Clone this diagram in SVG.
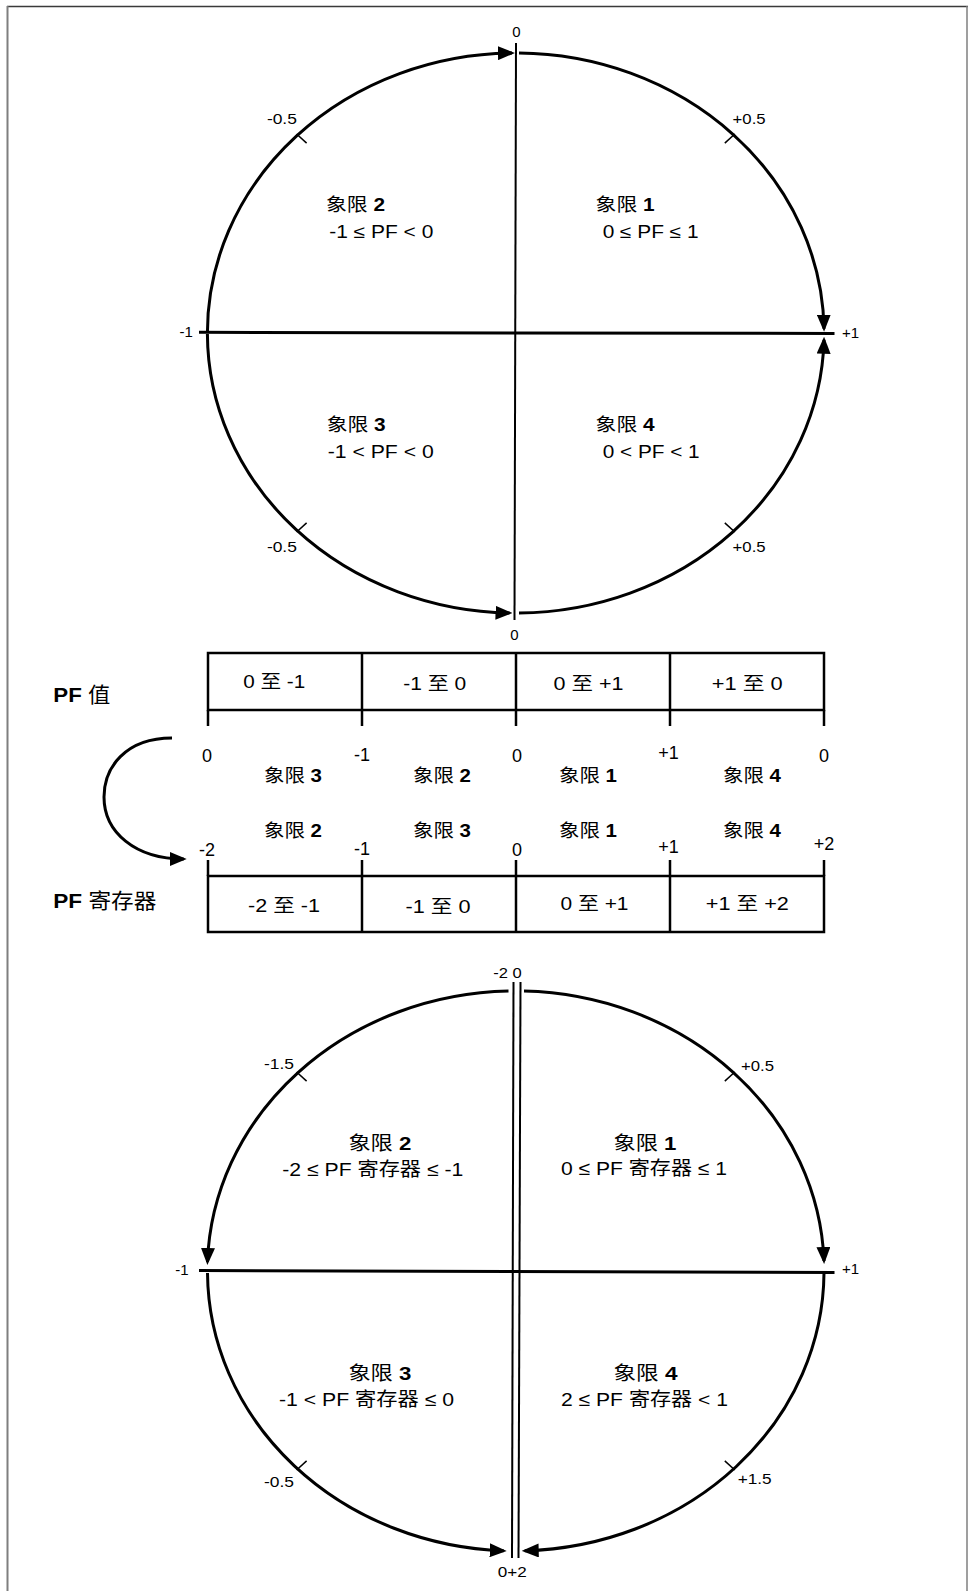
<svg xmlns="http://www.w3.org/2000/svg" width="968" height="1591" viewBox="0 0 968 1591">
<style>
text{font-family:"Liberation Sans","Noto Sans CJK SC",sans-serif;fill:#000}
.s{font-size:15px}
.q{font-size:18px}
.r{font-size:19px}
.h{font-size:21px}
.b{font-weight:bold}
.m{text-anchor:middle}
.e{text-anchor:end}
.arc{fill:none;stroke:#000;stroke-width:3}
.ln{fill:none;stroke:#000;stroke-width:2}
.hl{fill:none;stroke:#000;stroke-width:3}
.tk{fill:none;stroke:#000;stroke-width:1.5}
.tb{fill:none;stroke:#000;stroke-width:2.5}
</style>
<defs>
<marker id="arr" markerUnits="userSpaceOnUse" viewBox="0 0 17 14" markerWidth="17" markerHeight="14" refX="14" refY="7" orient="auto">
<path d="M0,0 L17,7 L0,14 z" fill="#000"/>
</marker>
</defs>

<g id="frame">
<line x1="7" y1="6.5" x2="968" y2="6.5" stroke="#3a3a3a" stroke-width="1.5"/>
<line x1="7.5" y1="6" x2="7.5" y2="1591" stroke="#7f7f7f" stroke-width="2"/>
<line x1="967" y1="6" x2="967" y2="1591" stroke="#7f7f7f" stroke-width="1.5"/>
</g>

<g id="connectors">
<path class="arc" d="M207.4,333 A308.3,280 0 0 1 512,53" marker-end="url(#arr)"/>
<path class="arc" d="M519,53 A308.3,280 0 0 1 824,328.7" marker-end="url(#arr)"/>
<path class="arc" d="M519,613 A308.3,280 0 0 0 824,339.7" marker-end="url(#arr)"/>
<path class="arc" d="M207.4,334 A308.3,280 0 0 0 509.5,613" marker-end="url(#arr)"/>
<line class="ln" x1="516" y1="43" x2="514.5" y2="620"/>
<line class="hl" x1="199" y1="332.3" x2="834.5" y2="333.5"/>
<line class="tk" x1="296.6" y1="134" x2="306.6" y2="143.1"/>
<line class="tk" x1="734.8" y1="134" x2="724.8" y2="143.1"/>
<line class="tk" x1="296.6" y1="532" x2="306.6" y2="522.9"/>
<line class="tk" x1="734.8" y1="532" x2="724.8" y2="522.9"/>
<path class="arc" d="M172,738 C125,738 104,768 104,797 C104,832 135,859 183.7,859" marker-end="url(#arr)"/>
<path class="arc" d="M508.5,991 A308.3,280 0 0 0 207.5,1262" marker-end="url(#arr)"/>
<path class="arc" d="M524,991 A308.3,280 0 0 1 824,1261" marker-end="url(#arr)"/>
<path class="arc" d="M207.5,1273 A308.3,280 0 0 0 503.7,1550.8" marker-end="url(#arr)"/>
<path class="arc" d="M824,1273 A308.3,280 0 0 1 524.7,1550.8" marker-end="url(#arr)"/>
<line class="ln" x1="513.5" y1="982" x2="512" y2="1558"/>
<line class="ln" x1="520.5" y1="982" x2="518.5" y2="1558"/>
<line class="hl" x1="199" y1="1270.5" x2="834.5" y2="1272.5"/>
<line class="tk" x1="296.6" y1="1072" x2="306.6" y2="1081.1"/>
<line class="tk" x1="734.8" y1="1072" x2="724.8" y2="1081.1"/>
<line class="tk" x1="296.6" y1="1470" x2="306.6" y2="1460.9"/>
<line class="tk" x1="734.8" y1="1470" x2="724.8" y2="1460.9"/>
</g>

<g id="top-circle-labels">
<text class="s m" x="516.5" y="37">0</text>
<text class="s" x="266.9" y="124" textLength="30" lengthAdjust="spacingAndGlyphs">-0.5</text>
<text class="s" x="732.6" y="124" textLength="33" lengthAdjust="spacingAndGlyphs">+0.5</text>
<text class="s e" x="192.8" y="337">-1</text>
<text class="s" x="842" y="338">+1</text>
<text class="s" x="266.9" y="552" textLength="30" lengthAdjust="spacingAndGlyphs">-0.5</text>
<text class="s" x="732.6" y="552" textLength="33" lengthAdjust="spacingAndGlyphs">+0.5</text>
<text class="s m" x="514.5" y="640">0</text>
</g>
<g id="top-q2">
<text class="q" x="326" y="211" textLength="59" lengthAdjust="spacingAndGlyphs">象限 <tspan class="b">2</tspan></text>
<text class="q" x="329.3" y="238" textLength="104" lengthAdjust="spacingAndGlyphs">-1 ≤ PF &lt; 0</text>
</g>
<g id="top-q1">
<text class="q" x="595.6" y="211" textLength="59" lengthAdjust="spacingAndGlyphs">象限 <tspan class="b">1</tspan></text>
<text class="q" x="602.7" y="238" textLength="96" lengthAdjust="spacingAndGlyphs">0 ≤ PF ≤ 1</text>
</g>
<g id="top-q3">
<text class="q" x="326.7" y="431" textLength="59" lengthAdjust="spacingAndGlyphs">象限 <tspan class="b">3</tspan></text>
<text class="q" x="327.7" y="458" textLength="106" lengthAdjust="spacingAndGlyphs">-1 &lt; PF &lt; 0</text>
</g>
<g id="top-q4">
<text class="q" x="595.6" y="431" textLength="59" lengthAdjust="spacingAndGlyphs">象限 <tspan class="b">4</tspan></text>
<text class="q" x="602.7" y="458" textLength="97" lengthAdjust="spacingAndGlyphs">0 &lt; PF &lt; 1</text>
</g>

<g id="pf-value-table">
<text class="h" x="53.3" y="702" textLength="57" lengthAdjust="spacingAndGlyphs"><tspan class="b">PF</tspan> 值</text>
<rect class="tb" x="208" y="653" width="616" height="57"/>
<line class="tb" x1="362" y1="653" x2="362" y2="726"/>
<line class="tb" x1="516" y1="653" x2="516" y2="726"/>
<line class="tb" x1="670" y1="653" x2="670" y2="726"/>
<line class="tb" x1="208" y1="710" x2="208" y2="726"/>
<line class="tb" x1="824" y1="710" x2="824" y2="726"/>
<text class="q m" x="274.2" y="688" textLength="62" lengthAdjust="spacingAndGlyphs">0 至 -1</text>
<text class="q m" x="434.7" y="689.5" textLength="63" lengthAdjust="spacingAndGlyphs">-1 至 0</text>
<text class="q m" x="588.6" y="690" textLength="70" lengthAdjust="spacingAndGlyphs">0 至 +1</text>
<text class="q m" x="747.2" y="690" textLength="71" lengthAdjust="spacingAndGlyphs">+1 至 0</text>
</g>

<g id="mapping-labels">
<text class="q m" x="207" y="762">0</text>
<text class="q m" x="362" y="761">-1</text>
<text class="q m" x="517" y="762">0</text>
<text class="q m" x="668.5" y="759">+1</text>
<text class="q m" x="824" y="762">0</text>
<text class="q m" x="293" y="782" textLength="58" lengthAdjust="spacingAndGlyphs">象限 <tspan class="b">3</tspan></text>
<text class="q m" x="442" y="782" textLength="58" lengthAdjust="spacingAndGlyphs">象限 <tspan class="b">2</tspan></text>
<text class="q m" x="588" y="782" textLength="58" lengthAdjust="spacingAndGlyphs">象限 <tspan class="b">1</tspan></text>
<text class="q m" x="752" y="782" textLength="58" lengthAdjust="spacingAndGlyphs">象限 <tspan class="b">4</tspan></text>
<text class="q m" x="293" y="837" textLength="58" lengthAdjust="spacingAndGlyphs">象限 <tspan class="b">2</tspan></text>
<text class="q m" x="442" y="837" textLength="58" lengthAdjust="spacingAndGlyphs">象限 <tspan class="b">3</tspan></text>
<text class="q m" x="588" y="837" textLength="58" lengthAdjust="spacingAndGlyphs">象限 <tspan class="b">1</tspan></text>
<text class="q m" x="752" y="837" textLength="58" lengthAdjust="spacingAndGlyphs">象限 <tspan class="b">4</tspan></text>
<text class="q m" x="207" y="856">-2</text>
<text class="q m" x="362" y="855">-1</text>
<text class="q m" x="517" y="856">0</text>
<text class="q m" x="668.5" y="853">+1</text>
<text class="q m" x="824" y="850">+2</text>
</g>

<g id="pf-register-table">
<text class="h" x="53.3" y="908" textLength="103" lengthAdjust="spacingAndGlyphs"><tspan class="b">PF</tspan> 寄存器</text>
<rect class="tb" x="208" y="876" width="616" height="56"/>
<line class="tb" x1="362" y1="860" x2="362" y2="932"/>
<line class="tb" x1="516" y1="860" x2="516" y2="932"/>
<line class="tb" x1="670" y1="860" x2="670" y2="932"/>
<line class="tb" x1="208" y1="860" x2="208" y2="876"/>
<line class="tb" x1="824" y1="860" x2="824" y2="876"/>
<text class="q m" x="284" y="912" textLength="72" lengthAdjust="spacingAndGlyphs">-2 至 -1</text>
<text class="q m" x="438" y="913" textLength="65" lengthAdjust="spacingAndGlyphs">-1 至 0</text>
<text class="q m" x="594.5" y="910" textLength="68" lengthAdjust="spacingAndGlyphs">0 至 +1</text>
<text class="q m" x="747.3" y="910" textLength="83" lengthAdjust="spacingAndGlyphs">+1 至 +2</text>
</g>

<g id="bottom-circle-labels">
<text class="s" x="493.3" y="978" textLength="28.5" lengthAdjust="spacingAndGlyphs">-2 0</text>
<text class="s" x="264" y="1069" textLength="30" lengthAdjust="spacingAndGlyphs">-1.5</text>
<text class="s" x="741" y="1071" textLength="33" lengthAdjust="spacingAndGlyphs">+0.5</text>
<text class="s e" x="188.5" y="1275">-1</text>
<text class="s" x="842" y="1274">+1</text>
<text class="s" x="264" y="1486.5" textLength="30" lengthAdjust="spacingAndGlyphs">-0.5</text>
<text class="s" x="737.7" y="1484" textLength="34" lengthAdjust="spacingAndGlyphs">+1.5</text>
<text class="s" x="497.7" y="1576.5" textLength="29" lengthAdjust="spacingAndGlyphs">0+2</text>
</g>
<g id="bottom-q2">
<text class="r" x="348.4" y="1150" textLength="63" lengthAdjust="spacingAndGlyphs">象限 <tspan class="b">2</tspan></text>
<text class="r" x="282.3" y="1176" textLength="181" lengthAdjust="spacingAndGlyphs">-2 ≤ PF 寄存器 ≤ -1</text>
</g>
<g id="bottom-q1">
<text class="r" x="613.5" y="1150" textLength="63" lengthAdjust="spacingAndGlyphs">象限 <tspan class="b">1</tspan></text>
<text class="r" x="561" y="1175" textLength="166" lengthAdjust="spacingAndGlyphs">0 ≤ PF 寄存器 ≤ 1</text>
</g>
<g id="bottom-q3">
<text class="r" x="348.4" y="1380" textLength="63" lengthAdjust="spacingAndGlyphs">象限 <tspan class="b">3</tspan></text>
<text class="r" x="279" y="1406" textLength="175" lengthAdjust="spacingAndGlyphs">-1 &lt; PF 寄存器 ≤ 0</text>
</g>
<g id="bottom-q4">
<text class="r" x="613.5" y="1380" textLength="64" lengthAdjust="spacingAndGlyphs">象限 <tspan class="b">4</tspan></text>
<text class="r" x="561" y="1406" textLength="167" lengthAdjust="spacingAndGlyphs">2 ≤ PF 寄存器 &lt; 1</text>
</g>
</svg>
